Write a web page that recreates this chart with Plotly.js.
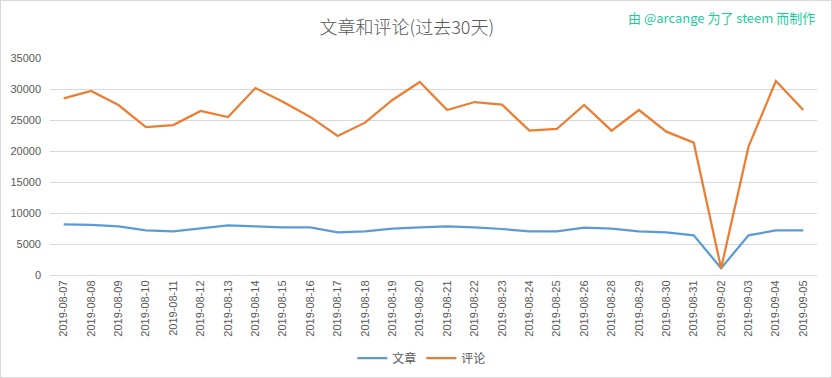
<!DOCTYPE html>
<html>
<head>
<meta charset="utf-8">
<script src="https://cdn.plot.ly/plotly-3.0.1.min.js"></script>
<style>
html,body{margin:0;padding:0;background:#fff;}
#wrap{position:relative;width:832px;height:378px;}
#chart{width:832px;height:378px;}
#frame{position:absolute;left:0;top:0;width:832px;height:378px;box-sizing:border-box;border:1px solid #d9d9d9;pointer-events:none;}
</style>
</head>
<body>
<div id="wrap"><div id="chart"></div><div id="frame"></div></div>
<script>
const dates = ["2019-08-07","2019-08-08","2019-08-09","2019-08-10","2019-08-11","2019-08-12","2019-08-13","2019-08-14","2019-08-15","2019-08-16","2019-08-17","2019-08-18","2019-08-19","2019-08-20","2019-08-21","2019-08-22","2019-08-23","2019-08-24","2019-08-25","2019-08-26","2019-08-28","2019-08-29","2019-08-30","2019-08-31","2019-09-02","2019-09-03","2019-09-04","2019-09-05"];
const posts = [8150,8100,7840,7190,7030,7500,8000,7840,7680,7680,6870,7030,7470,7680,7840,7680,7420,7030,7030,7630,7470,7030,6870,6390,1100,6390,7190,7190];
const comments = [28500,29680,27420,23870,24190,26450,25480,30160,27950,25500,22420,24570,28230,31130,26610,27900,27470,23280,23550,27420,23280,26610,23120,21340,1080,20700,31290,26610];
const seriesNames = ["文章","评论"];
const yTicks = [0,5000,10000,15000,20000,25000,30000,35000];

const traces = [
  {x: dates, y: posts, name: seriesNames[0], type: "scatter", mode: "lines",
   line: {color: "#5B9BD5", width: 2.25}},
  {x: dates, y: comments, name: seriesNames[1], type: "scatter", mode: "lines",
   line: {color: "#ED7D31", width: 2.25}}
];

const layout = {
  width: 832, height: 378,
  margin: {l: 50, r: 15, t: 58, b: 103},
  paper_bgcolor: "#ffffff", plot_bgcolor: "#ffffff",
  font: {family: "'Noto Sans CJK SC', 'DejaVu Sans', sans-serif", color: "#595959", size: 11},
  title: {text: "文章和评论(过去30天)", x: 0.489, xref: "container", xanchor: "center",
          y: 1 - 28/378, yref: "container", yanchor: "middle",
          font: {family: "'Noto Sans CJK SC', sans-serif", size: 18, color: "#595959", weight: 300}},
  xaxis: {type: "category", range: [-0.5, dates.length - 0.5], tickangle: -90,
          showgrid: false, showline: true, linecolor: "#d9d9d9", linewidth: 1,
          ticks: "", zeroline: false, fixedrange: true, automargin: false,
          tickfont: {family: "'Liberation Sans', Arial, sans-serif", size: 11, color: "#595959"}},
  yaxis: {range: [0, 35000], tickvals: yTicks, ticktext: yTicks.map(String),
          showgrid: true, gridcolor: "#d9d9d9", gridwidth: 1, zeroline: false,
          showline: false, ticks: "", fixedrange: true, automargin: false,
          ticklabelstandoff: 8,
          tickfont: {family: "'Liberation Sans', Arial, sans-serif", size: 11, color: "#595959"}},
  legend: {orientation: "h", xref: "container", yref: "container",
           x: 0.507, xanchor: "center", y: 1 - 358/378, yanchor: "middle",
           font: {family: "'Noto Sans CJK SC', sans-serif", size: 12, color: "#595959"},
           itemwidth: 30, traceorder: "normal"},
  showlegend: true,
  annotations: [{
    text: "由 @arcange 为了 steem 而制作", xref: "paper", yref: "paper",
    x: 1.0, xanchor: "right", y: 1.0, yanchor: "middle",
    yshift: 41, showarrow: false,
    font: {family: "'Noto Sans CJK SC', sans-serif", size: 13, color: "#1ccc9c"}
  }]
};

Plotly.newPlot("chart", traces, layout, {displayModeBar: false, staticPlot: true});
</script>
</body>
</html>
